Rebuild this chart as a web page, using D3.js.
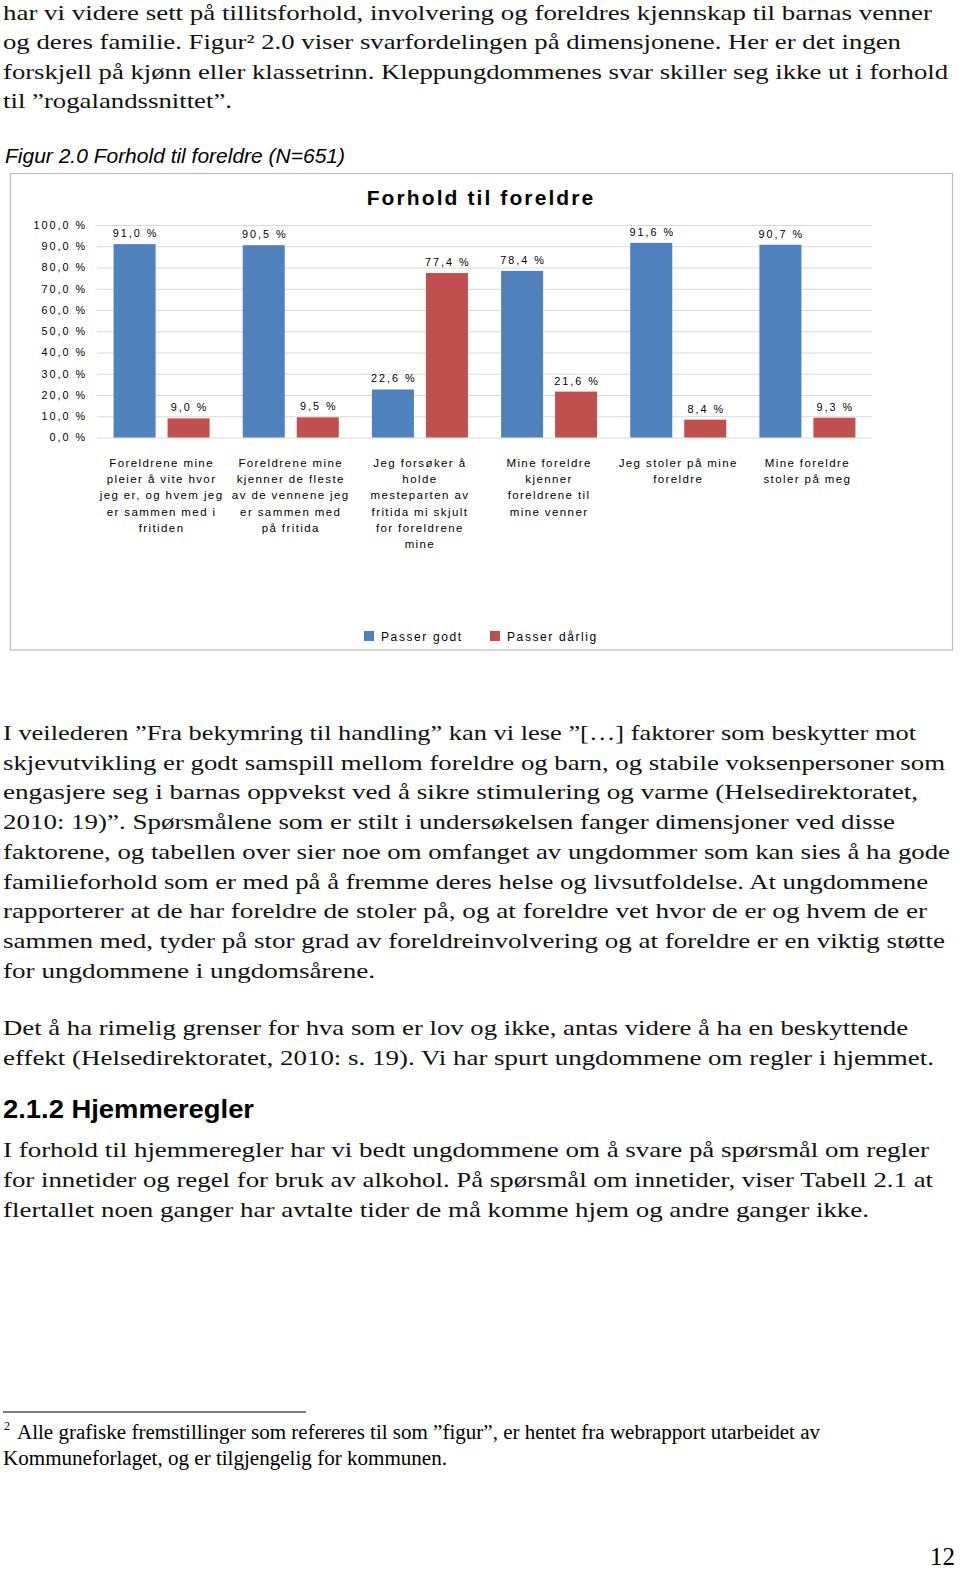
<!DOCTYPE html>
<html>
<head>
<meta charset="utf-8">
<script src="https://cdn.jsdelivr.net/npm/d3@7"></script>
<style>
  html, body { margin: 0; padding: 0; background: #fff; }
  svg { display: block; }
</style>
</head>
<body>
<div id="page"></div>
<script>
// ---------- chart data ----------
const chartTitle = "Forhold til foreldre";
const categories = [
  ["Foreldrene mine", "pleier å vite hvor", "jeg er, og hvem jeg", "er sammen med i", "fritiden"],
  ["Foreldrene mine", "kjenner de fleste", "av de vennene jeg", "er sammen med", "på fritida"],
  ["Jeg forsøker å", "holde", "mesteparten av", "fritida mi skjult", "for foreldrene", "mine"],
  ["Mine foreldre", "kjenner", "foreldrene til", "mine venner"],
  ["Jeg stoler på mine", "foreldre"],
  ["Mine foreldre", "stoler på meg"]
];
const seriesNames = ["Passer godt", "Passer dårlig"];
const passerGodt = [91.0, 90.5, 22.6, 78.4, 91.6, 90.7];
const passerDarlig = [9.0, 9.5, 77.4, 21.6, 8.4, 9.3];
const yTicks = [0, 10, 20, 30, 40, 50, 60, 70, 80, 90, 100];
const seriesColors = ["#4f81bd", "#c0504d"];

// ---------- page text ----------
const para1 = [
  "har vi videre sett på tillitsforhold, involvering og foreldres kjennskap til barnas venner",
  "og deres familie. Figur² 2.0 viser svarfordelingen på dimensjonene. Her er det ingen",
  "forskjell på kjønn eller klassetrinn. Kleppungdommenes svar skiller seg ikke ut i forhold",
  "til ”rogalandssnittet”."
];
const para1W = [929, 898, 945, 229];
const caption = "Figur 2.0 Forhold til foreldre (N=651)";
const para2 = [
  "I veilederen ”Fra bekymring til handling” kan vi lese ”[…] faktorer som beskytter mot",
  "skjevutvikling er godt samspill mellom foreldre og barn, og stabile voksenpersoner som",
  "engasjere seg i barnas oppvekst ved å sikre stimulering og varme (Helsedirektoratet,",
  "2010: 19)”. Spørsmålene som er stilt i undersøkelsen fanger dimensjoner ved disse",
  "faktorene, og tabellen over sier noe om omfanget av ungdommer som kan sies å ha gode",
  "familieforhold som er med på å fremme deres helse og livsutfoldelse. At ungdommene",
  "rapporterer at de har foreldre de stoler på, og at foreldre vet hvor de er og hvem de er",
  "sammen med, tyder på stor grad av foreldreinvolvering og at foreldre er en viktig støtte",
  "for ungdommene i ungdomsårene."
];
const para2W = [913, 942, 915, 892, 947, 925, 924, 942, 372];
const para3 = [
  "Det å ha rimelig grenser for hva som er lov og ikke, antas videre å ha en beskyttende",
  "effekt (Helsedirektoratet, 2010: s. 19). Vi har spurt ungdommene om regler i hjemmet."
];
const para3W = [905, 931];
const heading = "2.1.2 Hjemmeregler";
const para4 = [
  "I forhold til hjemmeregler har vi bedt ungdommene om å svare på spørsmål om regler",
  "for innetider og regel for bruk av alkohol. På spørsmål om innetider, viser Tabell 2.1 at",
  "flertallet noen ganger har avtalte tider de må komme hjem og andre ganger ikke."
];
const para4W = [926, 930, 866];
const footnote = [
  "Alle grafiske fremstillinger som refereres til som ”figur”, er hentet fra webrapport utarbeidet av",
  "Kommuneforlaget, og er tilgjengelig for kommunen."
];
const footnoteW = [803, 444];

const W = 960, H = 1572;
const svg = d3.select("#page").append("svg").attr("width", W).attr("height", H);

const serif = "'Liberation Serif', 'Times New Roman', serif";
const sans = "'Liberation Sans', Arial, sans-serif";

function textBlock(lines, widths, x, y0, lh, size) {
  lines.forEach((t, i) => {
    svg.append("text")
      .attr("x", x).attr("y", y0 + i * lh)
      .attr("font-family", serif).attr("font-size", size)
      .attr("fill", "#111")
      .attr("textLength", widths[i]).attr("lengthAdjust", "spacingAndGlyphs")
      .text(t);
  });
}

textBlock(para1, para1W, 3, 20, 29.4, 22);

svg.append("text")
  .attr("x", 5).attr("y", 163)
  .attr("font-family", sans).attr("font-style", "italic").attr("font-size", 20.5)
  .attr("textLength", 340).attr("lengthAdjust", "spacingAndGlyphs")
  .text(caption);

// ---------- chart ----------
const frame = { x: 10.5, y: 173.5, w: 942, h: 476.5 };
svg.append("rect")
  .attr("x", frame.x).attr("y", frame.y).attr("width", frame.w).attr("height", frame.h)
  .attr("fill", "#fff").attr("stroke", "#bcbcbc").attr("stroke-width", 1.2);

svg.append("text")
  .attr("x", 481).attr("y", 205)
  .attr("text-anchor", "middle")
  .attr("font-family", sans).attr("font-weight", "bold").attr("font-size", 21)
  .attr("letter-spacing", "2.1px")
  .text(chartTitle);

const plot = { left: 97, right: 872, top: 225, bottom: 437.5 };
const x0 = d3.scaleBand().domain(d3.range(categories.length)).range([plot.left, plot.right]).padding(0);
const x1 = d3.scaleBand().domain(seriesNames).range([0, x0.bandwidth()]).paddingInner(0.222).paddingOuter(0.307);
const y = d3.scaleLinear().domain([0, 100]).range([plot.bottom, plot.top]);

const fmt = v => v.toFixed(1).replace(".", ",") + " %";

const yAxis = d3.axisLeft(y)
  .tickValues(yTicks)
  .tickSize(-(plot.right - plot.left))
  .tickPadding(10)
  .tickFormat(fmt);

const gy = svg.append("g").attr("transform", `translate(${plot.left},0)`).call(yAxis);
gy.select(".domain").remove();
gy.selectAll(".tick line").attr("stroke", "#d9d9d9").attr("stroke-width", 1);
gy.selectAll(".tick text")
  .attr("font-family", sans).attr("font-size", 10.8)
  .attr("letter-spacing", "2px").attr("fill", "#000");

const seriesData = [passerGodt, passerDarlig];
const groups = svg.append("g").selectAll("g")
  .data(categories.map((c, i) => ({ i, vals: seriesNames.map((s, k) => ({ s, k, v: seriesData[k][i] })) })))
  .join("g")
  .attr("transform", d => `translate(${x0(d.i)},0)`);

groups.selectAll("rect")
  .data(d => d.vals)
  .join("rect")
  .attr("x", d => x1(d.s))
  .attr("width", x1.bandwidth())
  .attr("y", d => y(d.v))
  .attr("height", d => y(0) - y(d.v))
  .attr("fill", d => seriesColors[d.k]);

groups.selectAll("text.val")
  .data(d => d.vals)
  .join("text")
  .attr("class", "val")
  .attr("x", d => x1(d.s) + x1.bandwidth() / 2 + 1)
  .attr("y", d => y(d.v) - 7)
  .attr("text-anchor", "middle")
  .attr("font-family", sans).attr("font-size", 10.8)
  .attr("letter-spacing", "2px").attr("fill", "#000")
  .text(d => fmt(d.v));

// category labels
const catG = svg.append("g");
categories.forEach((lines, i) => {
  const t = catG.append("text")
    .attr("text-anchor", "middle")
    .attr("font-family", sans).attr("font-size", 11.5)
    .attr("letter-spacing", "1.4px").attr("fill", "#000");
  lines.forEach((ln, j) => {
    t.append("tspan")
      .attr("x", x0(i) + x0.bandwidth() / 2)
      .attr("y", 467 + j * 16.2)
      .text(ln);
  });
});

// legend
const legend = svg.append("g").attr("transform", "translate(364,631)");
const legendOffsets = [0, 126];
seriesNames.forEach((s, k) => {
  const g = legend.append("g").attr("transform", `translate(${legendOffsets[k]},0)`);
  g.append("rect").attr("width", 10).attr("height", 10).attr("fill", seriesColors[k]);
  g.append("text").attr("x", 17).attr("y", 10)
    .attr("font-family", sans).attr("font-size", 12)
    .attr("letter-spacing", "1.6px").attr("fill", "#000")
    .text(s);
});

// ---------- following text ----------
textBlock(para2, para2W, 3, 740, 29.7, 22);
textBlock(para3, para3W, 3, 1035, 29.7, 22);

svg.append("text")
  .attr("x", 3).attr("y", 1118)
  .attr("font-family", sans).attr("font-weight", "bold").attr("font-size", 26)
  .attr("textLength", 251).attr("lengthAdjust", "spacingAndGlyphs")
  .text(heading);

textBlock(para4, para4W, 3, 1157, 29.8, 22);

// footnote
svg.append("line").attr("x1", 3).attr("x2", 306).attr("y1", 1412).attr("y2", 1412)
  .attr("stroke", "#555").attr("stroke-width", 1.3);
svg.append("text").attr("x", 4).attr("y", 1430)
  .attr("font-family", serif).attr("font-size", 12).text("2");
svg.append("text").attr("x", 17).attr("y", 1439)
  .attr("font-family", serif).attr("font-size", 20)
  .attr("textLength", footnoteW[0]).attr("lengthAdjust", "spacingAndGlyphs")
  .text(footnote[0]);
svg.append("text").attr("x", 3).attr("y", 1465)
  .attr("font-family", serif).attr("font-size", 20)
  .attr("textLength", footnoteW[1]).attr("lengthAdjust", "spacingAndGlyphs")
  .text(footnote[1]);

// page number
svg.append("text").attr("x", 955).attr("y", 1565).attr("text-anchor", "end")
  .attr("font-family", serif).attr("font-size", 25).text("12");
</script>
</body>
</html>
